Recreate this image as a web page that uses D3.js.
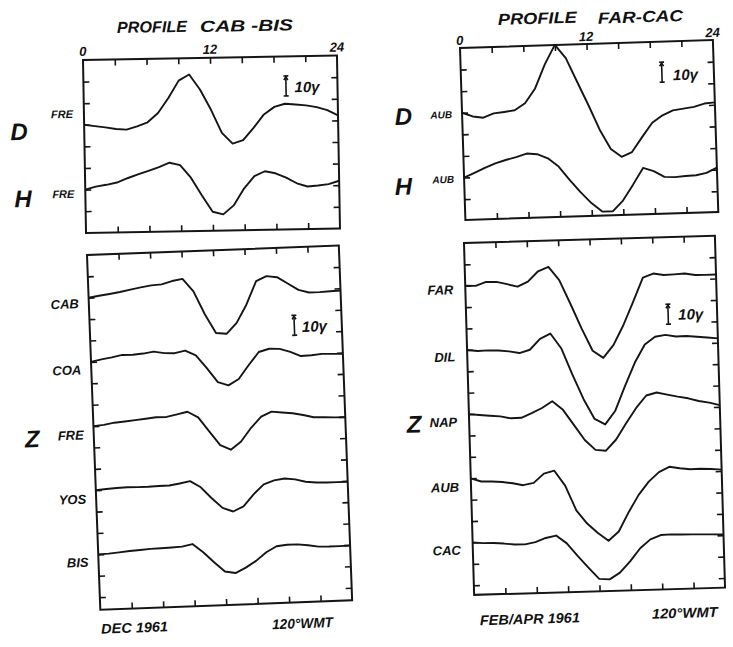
<!DOCTYPE html>
<html><head><meta charset="utf-8">
<script src="https://cdn.jsdelivr.net/npm/d3@7"></script>
<style>
html,body{margin:0;padding:0;background:#fff;}
svg{display:block;}
text{font-family:"Liberation Sans",Arial,sans-serif;font-style:italic;font-weight:bold;fill:#111;}
</style></head>
<body>
<svg id="chart" width="733" height="647"></svg>
<script>
// ---------- DATA (hourly values, gamma, relative to each trace's baseline) ----------
const hours = d3.range(0, 25);               // 0..24 h, 120°W mean time
const hourTicks = [3, 6, 9, 12, 15, 18, 21];
const hourLabels = [0, 12, 24];

// Profile CAB-BIS (Dec 1961)
const D_FRE = [0,-0.75,-1.5,-2.4,-2.8,-1.25,0.7,5.25,12.7,21.25,24.2,16.6,6.5,-5.25,-10.7,-9.1,-3,3.6,7.3,8.75,8.3,7.75,6.8,5.25,2.5];
const H_FRE = [0,1.4,2.2,3.25,5.3,7.1,8.8,10.6,12.7,11.4,5,-3.9,-12.2,-13.6,-9.2,-0.9,5.3,7.6,6.5,4.25,1.3,-0.4,0,0.6,2.2];
const Z_CAB = [0,0.8,1.5,2.3,3.3,4.2,5,5.3,6.8,7.7,1.2,-10.4,-20,-20.6,-15.3,-6.3,5.2,7.5,6.75,3.4,0,-1.5,-1.5,-1.3,-1.1];
const Z_COA = [0,1.1,1.9,2.9,2.8,3.2,4,3,2.8,3.9,1.3,-5.3,-12.5,-14.3,-11.3,-4.5,1.8,3.25,3,1.25,-1,-0.8,-0.3,-0.5,-0.7];
const Z_FRE = [0,0.4,1.3,1.7,2.2,2.7,3.25,3.2,4.3,5.4,2.4,-4.8,-11.9,-14.4,-10.5,-3.8,1.6,3.9,3.25,2.7,1.6,0.3,0.1,-0.2,-0.3];
const Z_YOS = [0,0.4,0.75,0.9,0.75,0.75,0.9,1,1.8,2.8,-0.5,-6.2,-11.2,-13.2,-10.8,-5,-0.2,1.6,2.3,1.7,0.3,-0.3,-0.5,-0.5,-0.5];
const Z_BIS = [0,0.2,0.6,1.1,1.4,1.75,1.9,2.1,2.3,3.4,-0.9,-6.1,-10.9,-11.9,-9.4,-6.2,-2.1,0.75,1.25,1.25,0.6,-0.25,-0.4,-0.4,-0.3];

// Profile FAR-CAC (Feb/Apr 1961)
const D_AUB = [0,-2,-2.8,-0.8,-0.25,0.4,3.8,11,23,32.5,25.7,13.7,1.9,-10.6,-20.4,-24.5,-22.3,-15,-8,-4.4,-2.1,-1.4,-0.7,0.8,1.2];
const H_AUB = [0,2.2,4.5,6.6,8.1,9.4,11,10.5,8.3,4,-2.8,-9.1,-14.75,-19.2,-19.2,-14,-6.2,2,0.2,-2.8,-3.1,-2.7,-2.5,-1.5,1];
const Z_FAR = [0,-0.2,1.6,1.5,0.2,-1.2,1.2,6.2,8.3,1.5,-10.5,-23,-34.3,-38,-31.8,-22,-10.5,1.5,3.4,2.5,2.7,3,2.1,2,2];
const Z_DIL = [0,-0.7,-0.5,-0.7,-1.3,-2.3,-0.8,4.5,7,-0.5,-13.8,-26.3,-36.3,-39.2,-32.5,-20.2,-8.7,0.2,3.9,4.7,3.7,3.8,3.3,2.8,2.2];
const Z_NAP = [0,-0.6,-1.1,-1.6,-2.7,-2.6,-0.4,2,5.25,0.8,-6.9,-14.6,-19.7,-20.25,-14.8,-6.8,0.7,6.75,8.1,6.9,5.75,4.75,3.25,2.3,0.9];
const Z_AUB = [0,-1.75,-1.9,-2.3,-3.1,-4.2,-3.2,1.3,2.6,-5,-17.5,-24.3,-29.2,-33.2,-28.7,-19.2,-10.7,-4.25,0.4,2.9,2,1.4,1.5,1.2,0.7];
const Z_CAC = [0,-0.5,-0.6,-1,-1.6,-1.7,-0.7,1.2,2.25,-1.8,-8.2,-14.2,-20,-20.4,-17.2,-11.7,-5.3,-1,1,1.2,1,0.9,0.75,0.6,0.4];

const scaleBarGamma = 10;

// ---------- LAYOUT ----------
const INK = "#151515";
const pxPerGamma = 2;
const panels = [
  { ox: 83, oy: 60, w: 254, h: 173, rot: -1.0, step: 21.6,
    title: [["PROFILE", 34.5, -26.4, 70], ["CAB -BIS", 117.5, -26, 93]], tickLabY: -4,
    big: [["D", -74, 79], ["H", -71, 146]], lblX: -11, lblSize: 11,
    series: [["FRE", D_FRE, 3, -7], ["FRE", H_FRE, 6, 8]],
    bar: [202.5, 19.5, 211, 36], foot: null },
  { ox: 460, oy: 48, w: 253, h: 172, rot: -1.8, step: 21.6,
    title: [["PROFILE", 38.7, -21.8, 79], ["FAR-CAC", 138.8, -20, 85]], tickLabY: -3,
    big: [["D", -67.4, 75], ["H", -69.6, 145]], lblX: -10, lblSize: 10,
    series: [["AUB", D_AUB, 3, 5], ["AUB", H_AUB, 6, 5]],
    bar: [201, 20.5, 212, 39], foot: null },
  { ox: 87, oy: 255, w: 252, h: 355, rot: -2.15, step: 21.4,
    title: null, tickLabY: null,
    big: [["Z", -69, 190]], lblX: -10, lblSize: 13,
    series: [["CAB", Z_CAB, 2, 10], ["COA", Z_COA, 5, 12], ["FRE", Z_FRE, 8, 13], ["YOS", Z_YOS, 11, 13], ["BIS", Z_BIS, 14, 12]],
    bar: [204.5, 68, 212, 85], foot: [["DEC 1961", 0, 379, 67, "start"], ["120°WMT", 232, 381, 61, "end"]] },
  { ox: 464, oy: 243, w: 251, h: 352, rot: -1.65, step: 21.4,
    title: null, tickLabY: null,
    big: [["Z", -62.5, 188]], lblX: -12, lblSize: 13,
    series: [["FAR", Z_FAR, 2, 8], ["DIL", Z_DIL, 5, 11], ["NAP", Z_NAP, 8, 12], ["AUB", Z_AUB, 11, 13], ["CAC", Z_CAC, 14, 12]],
    bar: [202, 67, 212, 83], foot: [["FEB/APR 1961", 5, 382.5, 100, "start"], ["120°WMT", 243, 381, 66, "end"]] }
];

const svg = d3.select("#chart");
svg.append("rect").attr("width", 733).attr("height", 647).attr("fill", "#fff");

panels.forEach(p => {
  const g = svg.append("g").attr("transform", `translate(${p.ox},${p.oy}) rotate(${p.rot})`);
  const x = d3.scaleLinear().domain([0, 24]).range([0, p.w]);
  const yt = d3.scaleLinear().domain([0, p.h]).range([0, p.h]);
  const yTickVals = d3.range(p.step, p.h - 4, p.step);

  // frame
  g.append("rect").attr("width", p.w).attr("height", p.h)
    .attr("fill", "none").attr("stroke", INK).attr("stroke-width", 2);

  const styleAxis = sel => {
    sel.select(".domain").remove();
    sel.selectAll(".tick line").attr("stroke", INK).attr("stroke-width", 1.6);
    sel.selectAll(".tick text").remove();
  };
  g.append("g").call(d3.axisTop(x).tickValues(hourTicks).tickSize(-6)).call(styleAxis);
  g.append("g").attr("transform", `translate(0,${p.h})`).call(d3.axisBottom(x).tickValues(hourTicks).tickSize(-6)).call(styleAxis);
  g.append("g").call(d3.axisLeft(yt).tickValues(yTickVals).tickSize(-6)).call(styleAxis);
  g.append("g").attr("transform", `translate(${p.w},0)`).call(d3.axisRight(yt).tickValues(yTickVals).tickSize(-6)).call(styleAxis);

  // traces
  p.series.forEach(([name, vals, k, lblDy]) => {
    const base = k * p.step;
    const y = d3.scaleLinear().domain([0, 10]).range([base, base - 10 * pxPerGamma]);
    const line = d3.line().x((d, i) => x(hours[i])).y(d => y(d));
    g.append("path").datum(vals).attr("d", line)
      .attr("fill", "none").attr("stroke", INK).attr("stroke-width", 1.9)
      .attr("stroke-linejoin", "round");
    g.append("text").attr("x", p.lblX).attr("y", base + lblDy)
      .attr("text-anchor", "end").attr("font-size", p.lblSize).text(name);
  });

  // big component letters
  p.big.forEach(([t, bx, by]) => {
    g.append("text").attr("x", bx).attr("y", by).attr("font-size", 24).text(t);
  });

  // titles and hour labels
  if (p.title) {
    p.title.forEach(([t, tx, ty, tl]) => {
      g.append("text").attr("x", tx).attr("y", ty).attr("font-size", 16)
        .attr("textLength", tl).attr("lengthAdjust", "spacingAndGlyphs").text(t);
    });
    hourLabels.forEach(hv => {
      g.append("text").attr("x", x(hv)).attr("y", p.tickLabY).attr("text-anchor", "middle")
        .attr("font-size", 13).text(hv);
    });
  }

  // 10 gamma scale bar
  const [bx, by, tx, ty] = p.bar;
  const barLen = scaleBarGamma * pxPerGamma;
  const bar = g.append("g").attr("stroke", INK).attr("stroke-width", 1.6);
  bar.append("line").attr("x1", bx).attr("x2", bx).attr("y1", by).attr("y2", by + barLen);
  bar.append("line").attr("x1", bx - 2.5).attr("x2", bx + 2.5).attr("y1", by).attr("y2", by);
  bar.append("line").attr("x1", bx - 2.5).attr("x2", bx + 2.5).attr("y1", by + barLen).attr("y2", by + barLen);
  bar.append("path").attr("d", `M${bx - 2},${by + 4}L${bx},${by + 1}L${bx + 2},${by + 4}`).attr("fill", "none");
  const st = g.append("text").attr("x", tx).attr("y", ty).attr("font-size", 15).attr("font-weight", "normal");
  st.append("tspan").text(scaleBarGamma);
  st.append("tspan").attr("font-weight", "bold").text("γ");

  // footers
  if (p.foot) {
    p.foot.forEach(([t, fx, fy, tl, anchor]) => {
      g.append("text").attr("x", fx).attr("y", fy).attr("text-anchor", anchor)
        .attr("font-size", 14).attr("textLength", tl).attr("lengthAdjust", "spacingAndGlyphs").text(t);
    });
  }
});
</script>
</body></html>
